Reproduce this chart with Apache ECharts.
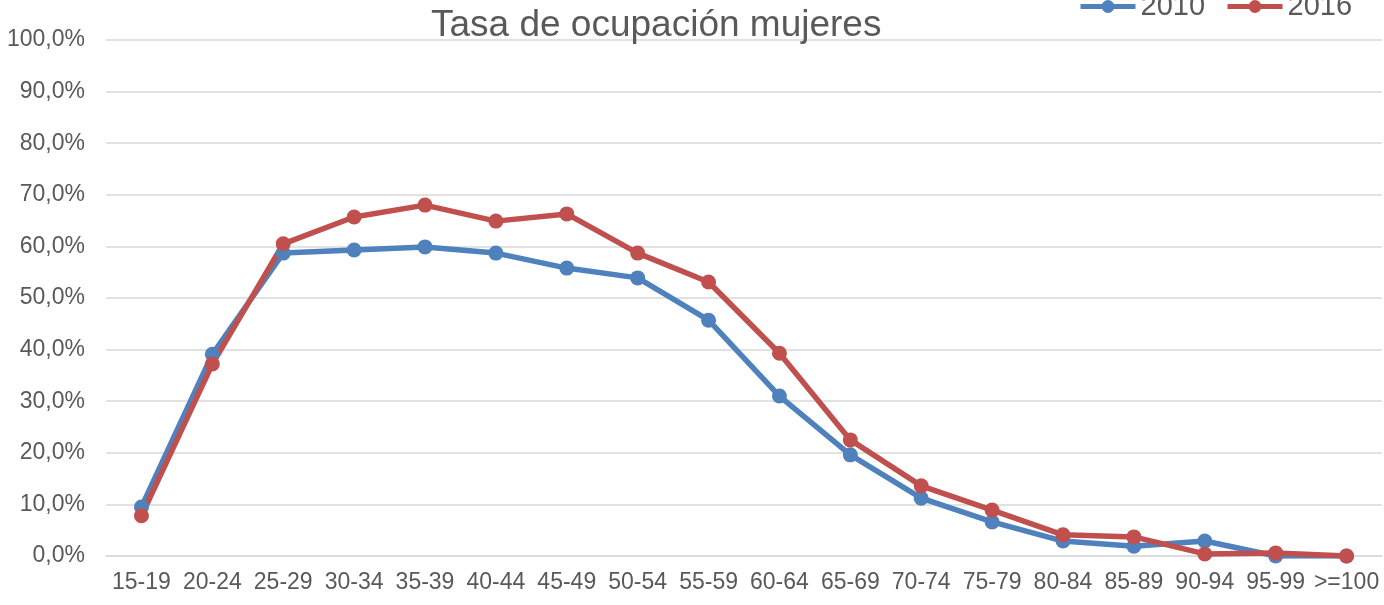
<!DOCTYPE html>
<html>
<head>
<meta charset="utf-8">
<script src="https://cdn.jsdelivr.net/npm/echarts@6/dist/echarts.min.js"></script>
<style>
  html, body { margin: 0; padding: 0; background: #fff; }
  #chart { width: 1384px; height: 605px; }
</style>
</head>
<body>
<div id="chart"></div>
<script>
var ageGroups = ['15-19', '20-24', '25-29', '30-34', '35-39', '40-44', '45-49', '50-54', '55-59',
    '60-64', '65-69', '70-74', '75-79', '80-84', '85-89', '90-94', '95-99', '>=100'];
var rate2010 = [9.5, 39.1, 58.7, 59.3, 59.9, 58.7, 55.8, 53.9, 45.7, 31.0, 19.6, 11.2, 6.6, 2.9, 1.9, 2.9, 0.0, 0.0];
var rate2016 = [7.8, 37.2, 60.5, 65.7, 68.0, 64.9, 66.3, 58.7, 53.1, 39.3, 22.5, 13.6, 8.9, 4.1, 3.7, 0.4, 0.6, 0.0];

var chart = echarts.init(document.getElementById('chart'));
var font = 'Liberation Sans, Arial, sans-serif';
var textColor = '#595959';

var option = {
    animation: false,
    title: {
        text: 'Tasa de ocupación mujeres',
        left: 426,
        top: 2,
        textStyle: {
            fontFamily: font,
            fontSize: 37,
            fontWeight: 'normal',
            color: textColor
        }
    },
    legend: {
        data: ['2010', '2016'],
        left: 1073,
        top: -13,
        itemWidth: 55,
        itemHeight: 16,
        itemGap: 20,
        lineStyle: { width: 5 },
        textStyle: {
            fontFamily: font,
            fontSize: 29,
            color: textColor
        }
    },
    grid: {
        left: 106,
        right: 2,
        top: 40,
        bottom: 49
    },
    xAxis: {
        type: 'category',
        data: ageGroups,
        boundaryGap: true,
        axisLine: { show: true, lineStyle: { color: '#d9d9d9', width: 1.5 } },
        axisTick: { show: false },
        axisLabel: {
            interval: 0,
            margin: 15,
            fontFamily: font,
            fontSize: 23,
            color: textColor
        }
    },
    yAxis: {
        type: 'value',
        min: 0,
        max: 100,
        interval: 10,
        axisLine: { show: false },
        axisTick: { show: false },
        splitLine: { lineStyle: { color: '#d9d9d9', width: 1.5 } },
        axisLabel: {
            margin: 21,
            fontFamily: font,
            fontSize: 23,
            color: textColor,
            formatter: function (v) {
                return v.toFixed(1).replace('.', ',') + '%';
            }
        }
    },
    series: [
        {
            name: '2010',
            type: 'line',
            data: rate2010,
            symbol: 'circle',
            symbolSize: 15,
            color: '#4f81bd',
            lineStyle: { width: 5.5, color: '#4f81bd' },
            itemStyle: { color: '#4f81bd' }
        },
        {
            name: '2016',
            type: 'line',
            data: rate2016,
            symbol: 'circle',
            symbolSize: 15,
            color: '#c0504d',
            lineStyle: { width: 5.5, color: '#c0504d' },
            itemStyle: { color: '#c0504d' }
        }
    ]
};

option && chart.setOption(option);
</script>
</body>
</html>
